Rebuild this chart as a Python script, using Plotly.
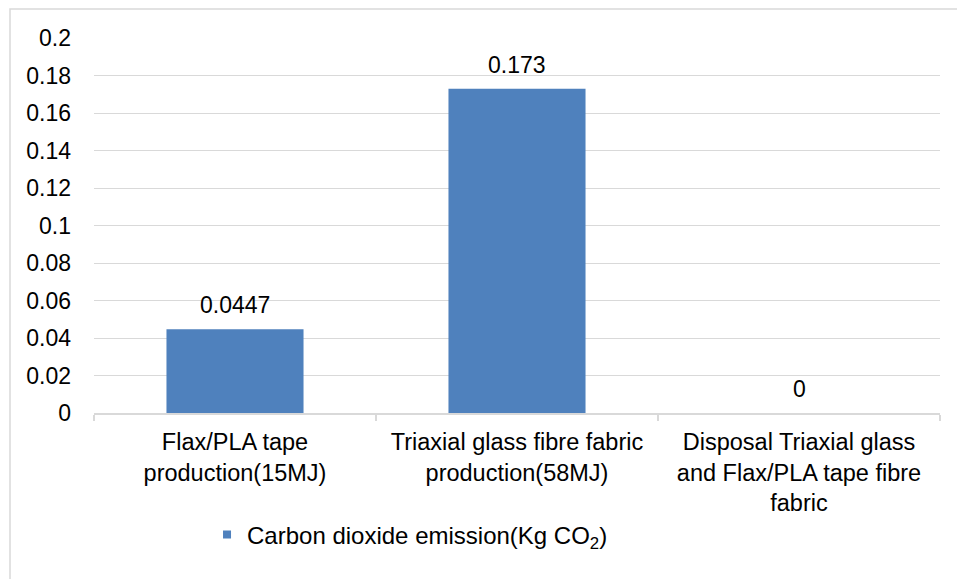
import plotly.graph_objects as go

# Emission per process stage
categories = [
    "Flax/PLA tape<br>production(15MJ)",
    "Triaxial glass fibre fabric<br>production(58MJ)",
    "Disposal Triaxial glass<br>and Flax/PLA tape fibre<br>fabric",
]
co2_emission = [0.0447, 0.173, 0]
value_labels = ["0.0447", "0.173", "0"]
series_name = "Carbon dioxide emission(Kg CO<sub>2</sub>)"

y_tick_vals = [0, 0.02, 0.04, 0.06, 0.08, 0.1, 0.12, 0.14, 0.16, 0.18, 0.2]
y_tick_text = ["0", "0.02", "0.04", "0.06", "0.08", "0.1", "0.12", "0.14", "0.16", "0.18", "0.2"]

BAR_COLOR = "#4F81BD"
GRID_COLOR = "#D9D9D9"
FONT = "Liberation Sans, Arial, sans-serif"
FS = 23

fig = go.Figure()
fig.add_trace(go.Bar(
    x=categories,
    y=co2_emission,
    marker=dict(color=BAR_COLOR, line=dict(width=0)),
    showlegend=False,
    hoverinfo="x+y",
))
# legend entry with a small square swatch
fig.add_trace(go.Scatter(
    x=[None], y=[None],
    mode="markers",
    marker=dict(symbol="square", size=8, color=BAR_COLOR),
    name=series_name,
    showlegend=True,
))

# value labels above the bars
for cat, val, lab in zip(categories, co2_emission, value_labels):
    fig.add_annotation(
        x=cat, y=val, text=lab, showarrow=False,
        yanchor="bottom", yshift=9,
        font=dict(family=FONT, size=FS, color="#000000"),
    )

# outer chart border
fig.add_shape(
    type="rect", xref="paper", yref="paper",
    x0=-0.0993, x1=1.03, y0=-0.47, y1=1.0773,
    line=dict(color=GRID_COLOR, width=1.5),
    fillcolor="rgba(0,0,0,0)", layer="below",
)

fig.update_layout(
    width=957, height=579,
    margin=dict(l=94, r=17, t=38, b=166),
    paper_bgcolor="white",
    plot_bgcolor="white",
    bargap=0.514,
    font=dict(family=FONT, size=FS, color="#000000"),
    showlegend=True,
    legend=dict(
        orientation="h",
        x=0.1336, xanchor="left",
        y=-0.325, yanchor="middle",
        font=dict(family=FONT, size=24, color="#000000"),
        bgcolor="rgba(0,0,0,0)",
    ),
    xaxis=dict(
        type="category",
        showgrid=False,
        showline=True, linecolor=GRID_COLOR, linewidth=1.5,
        ticks="outside", tickson="boundaries", ticklen=6,
        tickcolor=GRID_COLOR, tickwidth=1.5,
        tickfont=dict(family=FONT, size=23.5, color="#000000"),
        ticklabelstandoff=7,
        fixedrange=True,
    ),
    yaxis=dict(
        range=[0, 0.2],
        tickvals=y_tick_vals,
        ticktext=y_tick_text,
        showgrid=True, gridcolor=GRID_COLOR, gridwidth=1.2,
        zeroline=False, showline=False, ticks="",
        tickfont=dict(family=FONT, size=FS, color="#000000"),
        ticklabelstandoff=22,
        fixedrange=True,
    ),
)

fig.write_html("out.html")
